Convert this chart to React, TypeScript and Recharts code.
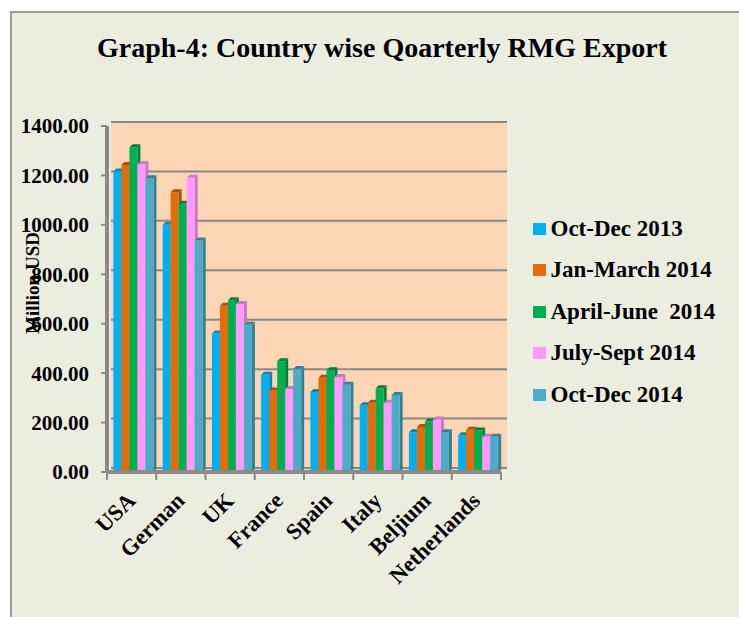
import React from 'react';
import { BarChart, Bar, XAxis, YAxis, CartesianGrid, Legend } from 'recharts';

const countries = ['USA', 'German', 'UK', 'France', 'Spain', 'Italy', 'Beljium', 'Netherlands'];
const octDec2013 = [1216, 1000, 560, 394, 324, 270, 161, 149];
const janMar2014 = [1242, 1132, 673, 330, 381, 280, 182, 171];
const aprJun2014 = [1314, 1085, 695, 448, 412, 339, 204, 168];
const julSep2014 = [1245, 1191, 680, 336, 384, 280, 212, 143];
const octDec2014 = [1189, 937, 596, 417, 353, 312, 161, 143];
const seriesNames = ['Oct-Dec 2013', 'Jan-March 2014', 'April-June  2014', 'July-Sept 2014', 'Oct-Dec 2014'];
const yTicks = [0, 200, 400, 600, 800, 1000, 1200, 1400];
const titleText = 'Graph-4: Country wise Qoarterly RMG Export';
const yLabel = 'Million USD';

const seriesKeys = ['s0', 's1', 's2', 's3', 's4'];
const seriesValues = [octDec2013, janMar2014, aprJun2014, julSep2014, octDec2014];
const colors = ['#00B0F0', '#E46C0A', '#00B050', '#FF99FF', '#4BACC6'];
const darks = ['#0A85B5', '#A9500A', '#00823B', '#C777C7', '#367F93'];

const data = countries.map((name, ci) => {
  const row: any = { name };
  seriesKeys.forEach((k, si) => { row[k] = seriesValues[si][ci]; });
  return row;
});

const FONT = '"Liberation Serif", "Times New Roman", serif';

function Bar3D(p: any) {
  const { width, height, fill, dark } = p;
  if (!height || height <= 0) return null;
  const x = p.x + 1.5;
  const y = p.y;
  const d = 3;
  const fw = width;
  return (
    <g>
      <polygon points={`${x},${y} ${x + d},${y - d} ${x + fw + d},${y - d} ${x + fw},${y}`} fill={dark} />
      <polygon points={`${x + fw},${y} ${x + fw + d},${y - d} ${x + fw + d},${y + height - d} ${x + fw},${y + height}`} fill={dark} />
      <rect x={x} y={y} width={fw} height={height} fill={fill} />
    </g>
  );
}

function CatTick(p: any) {
  const { x, y, payload, width, visibleTicksCount, index } = p;
  const cw = width / visibleTicksCount;
  const bx = x - cw / 2;
  return (
    <g>
      <line x1={bx} y1={y} x2={bx} y2={y + 8} stroke="#8a8a8a" strokeWidth={2} />
      {index === visibleTicksCount - 1 && (
        <line x1={x + cw / 2} y1={y} x2={x + cw / 2} y2={y + 8} stroke="#8a8a8a" strokeWidth={2} />
      )}
      <text
        transform={`translate(${x + 5},${y + 30}) rotate(-45)`}
        textAnchor="end"
        fontFamily={FONT}
        fontWeight="bold"
        fontSize={22.5}
        fill="#000"
      >
        {payload.value}
      </text>
    </g>
  );
}

const renderLegend = () => (
  <div style={{ fontFamily: FONT, fontWeight: 'bold', fontSize: 23, color: '#000' }}>
    {seriesNames.map((n, i) => (
      <div key={n} style={{ display: 'flex', alignItems: 'center', height: 41.5 }}>
        <span style={{ display: 'inline-block', width: 12.5, height: 12, background: colors[i], marginRight: 5 }} />
        <span style={{ whiteSpace: 'pre' }}>{n}</span>
      </div>
    ))}
  </div>
);

export default function App() {
  return (
    <div style={{ position: 'absolute', left: 0, top: 0, width: 739, height: 617, background: '#fff', overflow: 'hidden' }}>
      <div style={{ position: 'absolute', left: 10, top: 11, width: 740, height: 620, background: '#EBEEDF', borderLeft: '2px solid #9a9a9a', borderTop: '2px solid #9a9a9a' }} />
      <svg width={739} height={617} style={{ position: 'absolute', left: 0, top: 0 }}>
        <text x={382} y={57} textAnchor="middle" fontFamily={FONT} fontWeight="bold" fontSize={28} fill="#000">{titleText}</text>
      </svg>
      <div style={{ position: 'absolute', left: 0, top: 0 }}>
        <BarChart
          width={739}
          height={617}
          data={data}
          margin={{ top: 126, right: 238, bottom: 0, left: 0 }}
          barCategoryGap="10%"
          barGap={0}
        >
          <CartesianGrid
            vertical={false}
            fill="#FCD5B5"
            x={111}
            y={122}
            width={396}
            height={348}
            horizontal={(hp: any) => (
              <line key={`h-${hp.y1}`} x1={hp.x1} x2={hp.x2} y1={hp.y1 - 4} y2={hp.y2 - 4} stroke="#888888" strokeWidth={2} />
            )}
          />
          <XAxis
            dataKey="name"
            height={145}
            interval={0}
            tickSize={0}
            tickMargin={0}
            tickLine={false}
            axisLine={{ stroke: '#8a8a8a', strokeWidth: 4 }}
            tick={<CatTick />}
          />
          <YAxis
            width={107}
            domain={[0, 1400]}
            ticks={yTicks}
            interval={0}
            tickSize={6}
            tickMargin={12}
            tickFormatter={(v: number) => v.toFixed(2)}
            tickLine={{ stroke: '#8a8a8a', strokeWidth: 2 }}
            axisLine={{ stroke: '#8a8a8a', strokeWidth: 4 }}
            tick={{ fontFamily: FONT, fontWeight: 'bold', fontSize: 21, fill: '#000' }}
            label={{
              content: () => (
                <text x={39} y={283} transform="rotate(-90 39 283)" textAnchor="middle" fontFamily={FONT} fontWeight="bold" fontSize={19} fill="#000">
                  {yLabel}
                </text>
              ),
            }}
          />
          <Legend
            layout="horizontal"
            verticalAlign="middle"
            align="center"
            wrapperStyle={{ left: 533, top: 208, width: 206 }}
            content={renderLegend}
          />
          {seriesKeys.map((k, i) => (
            <Bar
              key={k}
              dataKey={k}
              name={seriesNames[i]}
              fill={colors[i]}
              isAnimationActive={false}
              shape={(bp: any) => <Bar3D {...bp} dark={darks[i]} />}
            />
          ))}
        </BarChart>
      </div>
    </div>
  );
}
